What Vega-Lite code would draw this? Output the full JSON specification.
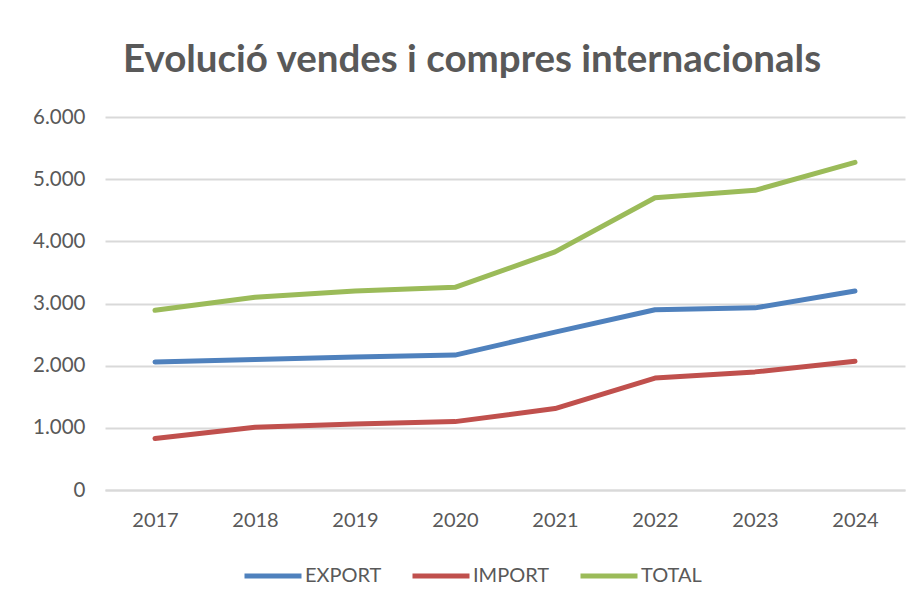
{
  "$schema": "https://vega.github.io/schema/vega-lite/v6.json",
  "autosize": {"type": "none"},
  "width": 800,
  "height": 373,
  "padding": {"left": 105, "top": 117, "right": 15, "bottom": 118},
  "background": "white",
  "title": {
    "text": "Evolució vendes i compres internacionals",
    "font": "Lato",
    "fontSize": 38.5,
    "fontWeight": "bold",
    "color": "#595959",
    "anchor": "middle",
    "dx": -33,
    "offset": 27
  },
  "data": {
    "values": [
      {"year": "2017", "series": "EXPORT", "value": 2060},
      {"year": "2018", "series": "EXPORT", "value": 2100},
      {"year": "2019", "series": "EXPORT", "value": 2140},
      {"year": "2020", "series": "EXPORT", "value": 2170},
      {"year": "2021", "series": "EXPORT", "value": 2540},
      {"year": "2022", "series": "EXPORT", "value": 2900},
      {"year": "2023", "series": "EXPORT", "value": 2930},
      {"year": "2024", "series": "EXPORT", "value": 3200},
      {"year": "2017", "series": "IMPORT", "value": 830},
      {"year": "2018", "series": "IMPORT", "value": 1010},
      {"year": "2019", "series": "IMPORT", "value": 1060},
      {"year": "2020", "series": "IMPORT", "value": 1100},
      {"year": "2021", "series": "IMPORT", "value": 1310},
      {"year": "2022", "series": "IMPORT", "value": 1800},
      {"year": "2023", "series": "IMPORT", "value": 1900},
      {"year": "2024", "series": "IMPORT", "value": 2070},
      {"year": "2017", "series": "TOTAL", "value": 2890},
      {"year": "2018", "series": "TOTAL", "value": 3100},
      {"year": "2019", "series": "TOTAL", "value": 3200},
      {"year": "2020", "series": "TOTAL", "value": 3260},
      {"year": "2021", "series": "TOTAL", "value": 3830},
      {"year": "2022", "series": "TOTAL", "value": 4700},
      {"year": "2023", "series": "TOTAL", "value": 4820},
      {"year": "2024", "series": "TOTAL", "value": 5270}
    ]
  },
  "mark": {"type": "line", "strokeWidth": 5, "strokeCap": "round", "strokeJoin": "round"},
  "encoding": {
    "x": {
      "field": "year",
      "type": "ordinal",
      "scale": {"type": "point", "padding": 0.5},
      "axis": {
        "title": null,
        "labelAngle": 0,
        "labelFont": "Lato",
        "labelFontSize": 20,
        "labelColor": "#595959",
        "labelPadding": 20,
        "ticks": false,
        "domain": true,
        "domainColor": "#d9d9d9",
        "domainWidth": 2,
        "grid": false
      }
    },
    "y": {
      "field": "value",
      "type": "quantitative",
      "scale": {"domain": [0, 6000], "nice": false},
      "axis": {
        "title": null,
        "values": [0, 1000, 2000, 3000, 4000, 5000, 6000],
        "labelExpr": "replace(format(datum.value, ','), ',', '.')",
        "labelFont": "Lato",
        "labelFontSize": 20.5,
        "labelColor": "#595959",
        "labelPadding": 20,
        "ticks": false,
        "domain": false,
        "grid": true,
        "gridColor": "#d9d9d9",
        "gridWidth": 2
      }
    },
    "color": {
      "field": "series",
      "type": "nominal",
      "scale": {"domain": ["EXPORT", "IMPORT", "TOTAL"], "range": ["#4F81BD", "#C0504D", "#9BBB59"]},
      "legend": {
        "title": null,
        "orient": "none",
        "legendX": 137,
        "legendY": 428,
        "direction": "horizontal",
        "symbolType": "stroke",
        "symbolSize": 3249,
        "symbolStrokeWidth": 5,
        "labelFont": "Lato",
        "labelFontSize": 20,
        "labelColor": "#595959",
        "labelOffset": 1,
        "columnPadding": 20
      }
    }
  },
  "config": {"view": {"stroke": null}}
}
